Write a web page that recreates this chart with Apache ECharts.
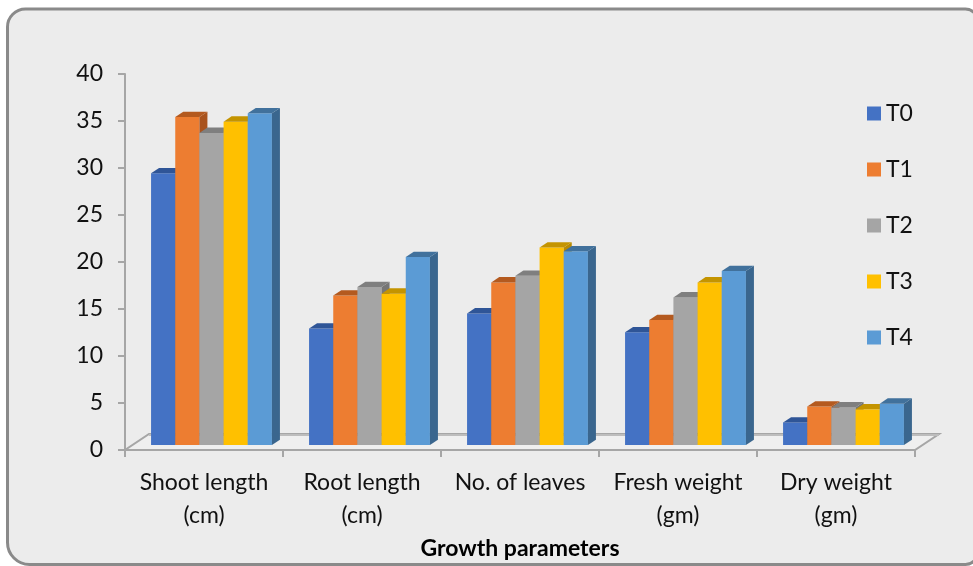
<!DOCTYPE html>
<html>
<head>
<meta charset="utf-8">
<script src="https://cdn.jsdelivr.net/npm/echarts@6/dist/echarts.min.js"></script>
<style>
  html, body { margin: 0; padding: 0; background: #ffffff; }
  #chart { width: 973px; height: 566px; }
</style>
</head>
<body>
<div id="chart"></div>
<script>
// Growth parameters per treatment
const categories = ['Shoot length\n(cm)', 'Root length\n(cm)', 'No. of leaves', 'Fresh weight\n(gm)', 'Dry weight\n(gm)'];
const seriesNames = ['T0', 'T1', 'T2', 'T3', 'T4'];
const t0 = [28.9, 12.4, 14.0, 12.0, 2.4];
const t1 = [34.9, 15.9, 17.3, 13.3, 4.1];
const t2 = [33.2, 16.8, 18.0, 15.7, 4.0];
const t3 = [34.4, 16.1, 21.0, 17.3, 3.8];
const t4 = [35.3, 20.0, 20.6, 18.5, 4.4];
const yMin = 0, yMax = 40, yStep = 5;
const axisTitle = 'Growth parameters';

const values = [t0, t1, t2, t3, t4];
const frontColors = ['#4472C4', '#ED7D31', '#A5A5A5', '#FFC000', '#5B9BD5'];
const topColors   = ['#2F5597', '#B45A1F', '#7F7F7F', '#C49400', '#41719C'];
const sideColors  = ['#2C4F8C', '#A9531D', '#767676', '#B88A00', '#3A668E'];

// pseudo-3D geometry (pixels)
const FRONT_DX = 7.5, FRONT_DY = -5;   // bar front plane behind the axis plane
const DEPTH_DX = 8, DEPTH_DY = -5.3;   // bar depth
const FLOOR_DX = 24, FLOOR_DY = -16;   // floor depth
const BAR_FRAC = 0.153;                // bar width as fraction of band

const chart = echarts.init(document.getElementById('chart'), null, { renderer: 'canvas' });

function barRenderer(s) {
  return function (params, api) {
    const idx = api.value(0);
    const v = api.value(1);
    const base = api.coord([idx, 0]);
    const top = api.coord([idx, v]);
    const band = api.size([1, 0])[0];
    const w = band * BAR_FRAC;
    const x0 = base[0] - 2.5 * w + s * w + FRONT_DX;
    const yb = base[1] + FRONT_DY;
    const yt = top[1] + FRONT_DY;
    return {
      type: 'group',
      children: [
        { type: 'rect', shape: { x: x0, y: yt, width: w, height: yb - yt },
          style: { fill: frontColors[s] } },
        { type: 'polygon', shape: { points: [[x0 + w, yt], [x0 + w + DEPTH_DX, yt + DEPTH_DY], [x0 + w + DEPTH_DX, yb + DEPTH_DY], [x0 + w, yb]] },
          style: { fill: sideColors[s] } },
        { type: 'polygon', shape: { points: [[x0, yt], [x0 + DEPTH_DX, yt + DEPTH_DY], [x0 + w + DEPTH_DX, yt + DEPTH_DY], [x0 + w, yt]] },
          style: { fill: topColors[s] } }
      ]
    };
  };
}

function floorRenderer(params, api) {
  const band = api.size([1, 0])[0];
  const first = api.coord([0, 0]);
  const last = api.coord([categories.length - 1, 0]);
  const xl = first[0] - band / 2, xr = last[0] + band / 2, y = first[1];
  return {
    type: 'group',
    children: [
      { type: 'polygon', shape: { points: [[xl, y], [xr, y], [xr + FLOOR_DX, y + FLOOR_DY], [xl + FLOOR_DX, y + FLOOR_DY]] },
        style: { fill: '#efefef', stroke: '#a6a6a6', lineWidth: 2 } },
      { type: 'line', shape: { x1: xl + FLOOR_DX, y1: y + FLOOR_DY + 1, x2: xr + FLOOR_DX, y2: y + FLOOR_DY + 1 },
        style: { stroke: '#bdbdbd', lineWidth: 2 } }
    ]
  };
}

const series = [{
  type: 'custom',
  name: 'floor',
  z: 1,
  silent: true,
  renderItem: floorRenderer,
  data: [[0, 0]],
  encode: { x: 0, y: 1 }
}];
seriesNames.forEach((name, s) => {
  series.push({
    type: 'custom',
    name: name,
    z: 2 + s,
    itemStyle: { color: frontColors[s] },
    renderItem: barRenderer(s),
    data: values[s].map((v, i) => [i, v]),
    encode: { x: 0, y: 1 }
  });
});

const font = 'Lato, "Open Sans", sans-serif';

chart.setOption({
  backgroundColor: '#ffffff',
  animation: false,
  color: frontColors,
  graphic: [{
    type: 'rect',
    z: -10,
    shape: { x: 7.5, y: 9, width: 970, height: 555.5, r: [18, 12, 12, 22] },
    style: { fill: '#ececec', stroke: '#8a8a8a', lineWidth: 3 }
  }],
  grid: { left: 125, right: 58, top: 74, bottom: 116, containLabel: false },
  legend: {
    data: seriesNames,
    orient: 'vertical',
    left: 862,
    top: 97,
    icon: 'rect',
    itemWidth: 14,
    itemHeight: 14,
    itemGap: 33,
    itemStyle: { borderWidth: 0 },
    textStyle: { fontFamily: font, fontSize: 23, color: '#111', lineHeight: 22 }
  },
  xAxis: {
    type: 'category',
    data: categories,
    axisLine: { show: true, lineStyle: { color: '#a6a6a6', width: 2 } },
    axisTick: { show: true, length: 7, lineStyle: { color: '#a6a6a6', width: 2 } },
    axisLabel: { fontFamily: font, fontSize: 23, color: '#111', lineHeight: 33, margin: 16, interval: 0 },
    name: axisTitle,
    nameLocation: 'middle',
    nameGap: 86,
    nameTextStyle: { fontFamily: font, fontSize: 23, fontWeight: 'bold', color: '#000' },
    z: 0
  },
  yAxis: {
    type: 'value',
    min: yMin,
    max: yMax,
    interval: yStep,
    splitLine: { show: false },
    axisLine: { show: true, lineStyle: { color: '#a6a6a6', width: 2 } },
    axisTick: { show: true, length: 7, lineStyle: { color: '#a6a6a6', width: 2 } },
    axisLabel: { fontFamily: font, fontSize: 23, color: '#111', margin: 22 }
  },
  series: series
});
</script>
</body>
</html>
